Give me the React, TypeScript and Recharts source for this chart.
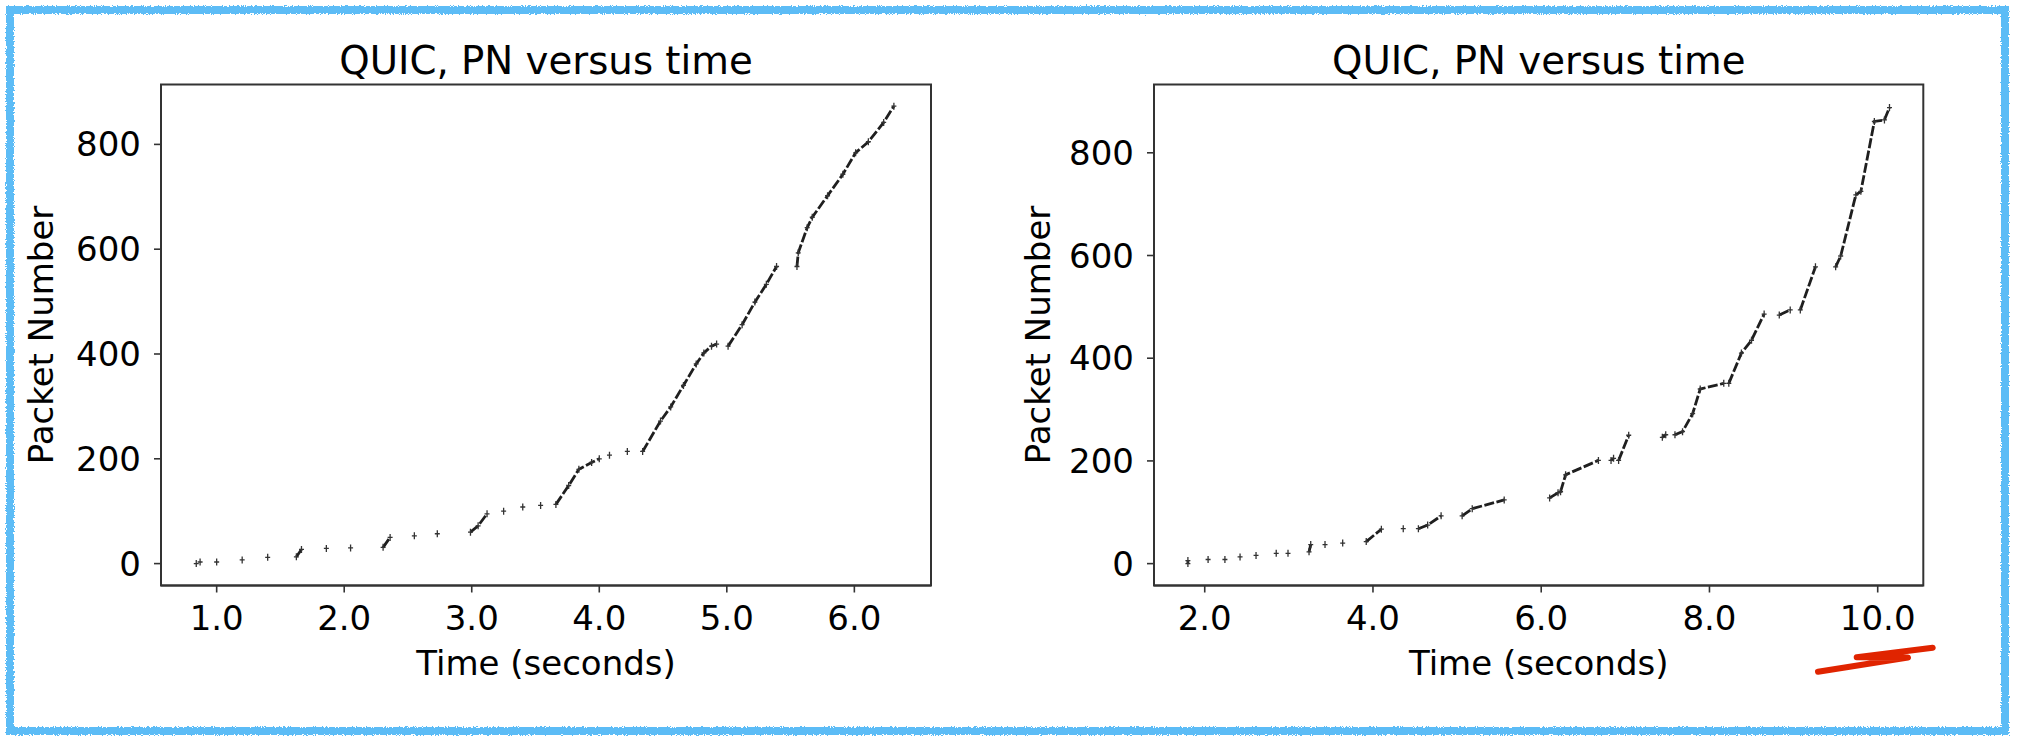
import React from 'react';
import { LineChart, Line, XAxis, YAxis, ReferenceArea } from 'recharts';

const FONT = '"DejaVu Sans", Verdana, sans-serif';

// each run is a list of [time, packet number] read along one visible stroke of marks
const leftRuns: number[][][] = [
  [[0.84, 0]],
  [[0.87, 3]],
  [[1.0, 3]],
  [[1.2, 7]],
  [[1.4, 12]],
  [[1.625, 13], [1.665, 27]],
  [[1.86, 29]],
  [[2.05, 30]],
  [[2.305, 31], [2.36, 50]],
  [[2.55, 53]],
  [[2.73, 57]],
  [[2.99, 60], [3.05, 72], [3.12, 95]],
  [[3.25, 100]],
  [[3.4, 108]],
  [[3.54, 111]],
  [[3.66, 113], [3.76, 149], [3.84, 180], [3.94, 193], [4.0, 200]],
  [[4.08, 207]],
  [[4.22, 214]],
  [[4.34, 214], [4.48, 272], [4.56, 299], [4.66, 340], [4.76, 381], [4.82, 402], [4.88, 415], [4.92, 419]],
  [[5.01, 415], [5.12, 456], [5.22, 499], [5.31, 533], [5.39, 567]],
  [[5.55, 567], [5.56, 593], [5.63, 641], [5.67, 661], [5.79, 702], [5.91, 743], [6.01, 784], [6.11, 805], [6.23, 842], [6.31, 873]],
];

const rightRuns: number[][][] = [
  [[1.8, 0], [1.8, 6]],
  [[2.04, 8]],
  [[2.24, 8]],
  [[2.42, 13]],
  [[2.61, 16]],
  [[2.85, 20]],
  [[2.99, 20]],
  [[3.24, 23], [3.26, 37]],
  [[3.43, 37]],
  [[3.64, 40]],
  [[3.92, 43], [4.1, 67]],
  [[4.36, 68]],
  [[4.54, 68], [4.65, 75], [4.81, 93]],
  [[5.06, 93], [5.18, 107], [5.56, 124]],
  [[6.1, 128], [6.2, 138], [6.23, 140], [6.29, 173], [6.68, 201]],
  [[6.83, 201], [6.86, 205]],
  [[6.92, 201], [7.04, 250]],
  [[7.44, 246], [7.48, 251]],
  [[7.59, 251], [7.68, 257], [7.8, 292], [7.89, 340], [8.17, 351]],
  [[8.23, 351], [8.38, 410], [8.5, 435], [8.65, 486]],
  [[8.83, 484], [8.96, 494]],
  [[9.08, 494], [9.26, 578]],
  [[9.5, 578], [9.56, 599], [9.74, 718], [9.8, 725], [9.96, 861], [10.08, 864], [10.14, 888]],
];

const leftTimeTicks = [1, 2, 3, 4, 5, 6];
const rightTimeTicks = [2, 4, 6, 8, 10];
const pnTicks = [0, 200, 400, 600, 800];

const titleText = 'QUIC, PN versus time';
const xLabelText = 'Time (seconds)';
const yLabelText = 'Packet Number';

// runs become line pieces split by null gaps
function toPoints(runs: number[][][]) {
  const pts: { t: number; pn: number | null }[] = [];
  runs.forEach((run) => {
    run.forEach(([t, pn]) => pts.push({ t, pn }));
    pts.push({ t: run[run.length - 1][0], pn: null });
  });
  return pts;
}

const renderPlus = (props: any) => {
  const { cx, cy, payload, index } = props;
  if (cx == null || cy == null || payload == null || payload.pn == null) return <g key={'d' + index} />;
  return (
    <path
      key={'d' + index}
      d={`M${cx - 2.5},${cy}h5M${cx},${cy - 3.5}v7`}
      stroke="#333"
      strokeWidth={1.3}
      fill="none"
    />
  );
};

const TOP = 84.5;
const BOTTOM = 585.5;
const H = 736;
const YW = 100;
const XH = 60;

function PnChart(props: {
  runs: number[][][];
  xDomain: [number, number];
  yDomain: [number, number];
  xTicks: number[];
  left: number;
  width: number;
  plotLeft: number;
  plotRight: number;
}) {
  const { runs, xDomain, yDomain, xTicks, left, width, plotLeft, plotRight } = props;
  const data = toPoints(runs);
  const axisStyle = { stroke: '#333', strokeWidth: 2 };
  const tickLine = { stroke: '#333', strokeWidth: 1.6 };
  return (
    <div style={{ position: 'absolute', left, top: 0, width, height: H }}>
      <LineChart
        width={width}
        height={H}
        data={data}
        margin={{ top: TOP, right: width - plotRight, bottom: H - BOTTOM - XH, left: plotLeft - YW }}
      >
        <XAxis
          type="number"
          dataKey="t"
          domain={xDomain}
          ticks={xTicks}
          interval={0}
          allowDataOverflow
          height={XH}
          tickFormatter={(v: number) => v.toFixed(1)}
          tick={{ fill: '#000', fontSize: 34, fontFamily: FONT }}
          tickSize={7}
          tickMargin={13}
          axisLine={axisStyle}
          tickLine={tickLine}
        />
        <YAxis
          type="number"
          domain={yDomain}
          ticks={pnTicks}
          interval={0}
          allowDataOverflow
          width={YW}
          tick={{ fill: '#000', fontSize: 34, fontFamily: FONT }}
          tickSize={7}
          tickMargin={13}
          axisLine={axisStyle}
          tickLine={tickLine}
        />
        <ReferenceArea
          x1={xDomain[0]}
          x2={xDomain[1]}
          y1={yDomain[0]}
          y2={yDomain[1]}
          fill="none"
          stroke="#333"
          strokeWidth={2}
          ifOverflow="visible"
        />
        <Line
          dataKey="pn"
          stroke="#1f1f1f"
          strokeWidth={2.8}
          strokeDasharray="10 2.5"
          connectNulls={false}
          dot={renderPlus}
          activeDot={false}
          isAnimationActive={false}
        />
      </LineChart>
    </div>
  );
}

export default function App() {
  const textStyle = { fontFamily: FONT, fill: '#000' };
  return (
    <div style={{ position: 'relative', width: 2017, height: H, background: '#fff', overflow: 'hidden' }}>
      <style>{'body{margin:0}'}</style>
      <PnChart
        runs={leftRuns}
        xDomain={[0.5635, 6.601]}
        yDomain={[-41.8, 914.3]}
        xTicks={leftTimeTicks}
        left={0}
        width={1000}
        plotLeft={161}
        plotRight={931}
      />
      <PnChart
        runs={rightRuns}
        xDomain={[1.397, 10.542]}
        yDomain={[-42.6, 933]}
        xTicks={rightTimeTicks}
        left={1000}
        width={1017}
        plotLeft={154}
        plotRight={923.3}
      />
      <svg
        width={2017}
        height={H}
        style={{ position: 'absolute', left: 0, top: 0, pointerEvents: 'none' }}
      >
        <defs>
          <filter id="rough" x="-2%" y="-2%" width="104%" height="104%">
            <feTurbulence type="fractalNoise" baseFrequency="0.9" numOctaves={2} result="n" />
            <feDisplacementMap in="SourceGraphic" in2="n" scale={4} />
          </filter>
        </defs>
        <rect x={10} y={10} width={1995} height={721} fill="none" stroke="#5cbcf6" strokeWidth={8} filter="url(#rough)" />

        <text x={546} y={74} textAnchor="middle" fontSize={38.7} style={textStyle}>{titleText}</text>
        <text x={1538.7} y={74} textAnchor="middle" fontSize={38.7} style={textStyle}>{titleText}</text>

        <text x={546} y={675} textAnchor="middle" fontSize={34} style={textStyle}>{xLabelText}</text>
        <text x={1538.7} y={675} textAnchor="middle" fontSize={34} style={textStyle}>{xLabelText}</text>

        <text x={53} y={335} textAnchor="middle" fontSize={34} transform="rotate(-90 53 335)" style={textStyle}>{yLabelText}</text>
        <text x={1050} y={335} textAnchor="middle" fontSize={34} transform="rotate(-90 1050 335)" style={textStyle}>{yLabelText}</text>

        <path
          d="M1818,671.7 L1908,657.5 L1856.7,657.3 L1932.7,647.7"
          fill="none"
          stroke="#e02400"
          strokeWidth={6}
          strokeLinecap="round"
          strokeLinejoin="round"
        />
      </svg>
    </div>
  );
}
